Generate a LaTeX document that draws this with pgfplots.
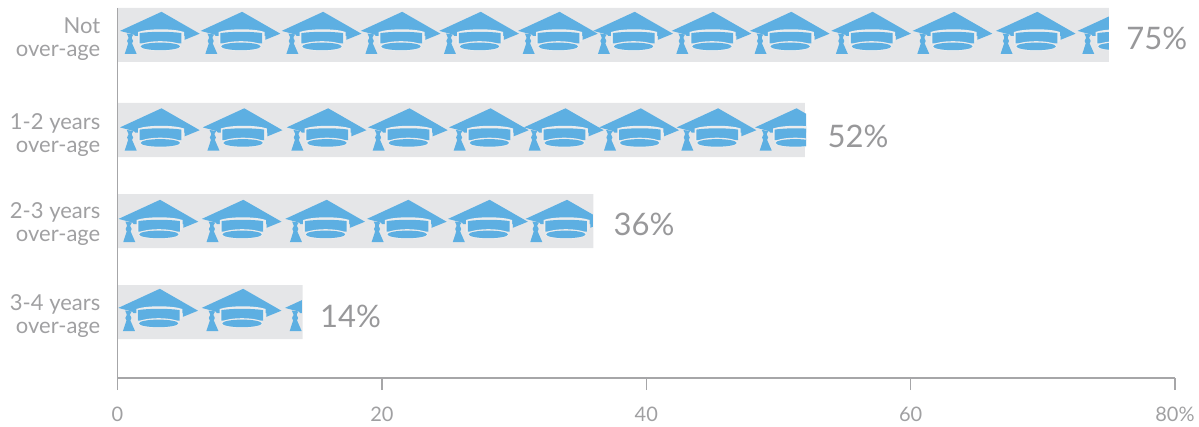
\documentclass[border=0pt]{standalone}
\usepackage{fontspec}
\setmainfont{Lato}
\usepackage{pgfplots}
\pgfplotsset{compat=1.18}

\definecolor{capblue}{HTML}{5DAFE2}
\definecolor{bargrey}{HTML}{E5E6E8}
\definecolor{bandgrey}{HTML}{EBECED}
\definecolor{textgrey}{HTML}{A0A0A2}
\definecolor{valuegrey}{HTML}{98989A}
\definecolor{axisgrey}{HTML}{A6A6A8}

% shorthands for the cap outline, all lengths in pt
\newcommand\mv[2]{\pgfpathmoveto{\pgfqpoint{#1pt}{#2pt}}}
\newcommand\li[2]{\pgfpathlineto{\pgfqpoint{#1pt}{#2pt}}}
\newcommand\cu[6]{\pgfpathcurveto{\pgfqpoint{#1pt}{#2pt}}{\pgfqpoint{#3pt}{#4pt}}{\pgfqpoint{#5pt}{#6pt}}}

% origin: left corner of the board in x, middle of the cap in y
\newcommand\capshape{%
  \pgfsetfillcolor{capblue}%
  % board
  \mv{0}{2.1}\li{41.5}{21.2}\li{79.7}{-0.7}\li{64.7}{-6.8}\li{64.7}{-3}\li{15}{-3}\li{14}{-1.6}\pgfpathclose
  \pgfusepathqfill
  % band around the crown
  \pgfsetfillcolor{bandgrey}%
  \mv{18}{-11}\li{18}{1}\cu{28}{4.6}{54}{4.6}{64}{1}\li{64}{-8}\li{60}{-11}\pgfpathclose
  \pgfusepathqfill
  % crown
  \pgfsetfillcolor{capblue}%
  \mv{19.7}{-0.1}\cu{30}{1.6}{51}{1.6}{61.4}{-0.1}\li{61.4}{-10.5}\li{19.7}{-10.5}\pgfpathclose
  \pgfusepathqfill
  % brim
  \pgfsetfillcolor{bandgrey}%
  \pgfpathellipse{\pgfqpoint{40.3pt}{-13.2pt}}{\pgfqpoint{21pt}{0pt}}{\pgfqpoint{0pt}{5pt}}
  \pgfusepathqfill
  \pgfsetfillcolor{capblue}%
  \pgfpathellipse{\pgfqpoint{40.3pt}{-13.4pt}}{\pgfqpoint{19.7pt}{0pt}}{\pgfqpoint{0pt}{3.8pt}}
  \pgfusepathqfill
  % tassel
  \mv{6.8}{-0.5}\li{13.5}{-1.5}\li{11.9}{-4}\li{11.9}{-10}\li{16.7}{-21}\li{4.7}{-21}\li{8.3}{-10}\li{8.3}{-4}\pgfpathclose
  \pgfusepathqfill
  \pgfpathcircle{\pgfqpoint{10.1pt}{-8pt}}{3pt}
  \pgfusepathqfill
}
\pgfdeclareplotmark{cap}{\capshape}
% caps cut off at the end of their bar, by how much of them is left
\newcommand\declarecut[2]{%
  \pgfdeclareplotmark{#1}{%
    \pgfpathrectangle{\pgfqpoint{-1pt}{-30pt}}{\pgfqpoint{#2pt}{60pt}}%
    \pgfusepath{clip}%
    \capshape}}
\declarecut{cutA}{32.3}
\declarecut{cutB}{52}
\declarecut{cutC}{68.4}
\declarecut{cutD}{18}

\begin{document}
\begin{tikzpicture}
\useasboundingbox (-117.5pt,-48pt) rectangle (1081.5pt,378pt);
\begin{axis}[
  scale only axis, width=1057.5pt, height=370pt,
  xmin=0, xmax=80, ymin=0, ymax=370,
  clip=false, axis on top,
  axis x line*=bottom, axis y line*=left,
  axis line style={-, color=axisgrey, line width=1.5pt},
  xtick={0,20,40,60,80},
  xticklabels={0,20,40,60,80\%},
  xtick align=outside, major tick length=12pt,
  xtick style={color=axisgrey, line width=1.5pt},
  xticklabel style={font=\fontsize{20}{24}\selectfont, text=textgrey, inner sep=0pt, yshift=-17pt},
  ytick={339,243,154,62},
  yticklabels={{Not\\over-age},{1-2 years\\over-age},{2-3 years\\over-age},{3-4 years\\over-age}},
  ytick style={draw=none},
  yticklabel style={font=\fontsize{22}{23.5}\selectfont, text=textgrey, align=right, inner sep=0pt, xshift=-17pt},
  /pgf/number format/assume math mode=true,
]
\addplot[xbar, bar width=54pt, bar shift=0pt, draw=none, fill=bargrey] coordinates {
(75,343)
(52,248)
(36,157)
(14,66)
};
% not over-age
\addplot[only marks, mark=cap] coordinates {
(0.19,345) (6.29,345) (12.42,345) (18.40,345) (24.34,345) (30.30,345)
(35.99,345) (41.92,345) (47.84,345) (53.99,345) (60.15,345) (66.45,345)
};
\addplot[only marks, mark=cutA] coordinates {(72.63,345)};
% 1-2 years
\addplot[only marks, mark=cap] coordinates {
(0.19,248.5) (6.45,248.5) (12.80,248.5) (18.95,248.5) (25.08,248.5) (30.75,248.5) (36.45,248.5) (42.30,248.5)
};
\addplot[only marks, mark=cutB] coordinates {(48.23,248.5)};
% 2-3 years
\addplot[only marks, mark=cap] coordinates {
(0.08,157) (6.38,157) (12.69,157) (18.87,157) (25.01,157)
};
\addplot[only marks, mark=cutC] coordinates {(30.87,157)};
% 3-4 years
\addplot[only marks, mark=cap] coordinates {(0.06,68) (6.37,68)};
\addplot[only marks, mark=cutD] coordinates {(12.67,68)};
% value labels, meta is the printed number
\addplot[only marks, mark=none, point meta=explicit,
  nodes near coords={\pgfmathprintnumber{\pgfplotspointmeta}\%},
  nodes near coords style={anchor=west, inner sep=0pt, xshift=18pt, text=valuegrey, font=\fontsize{31}{36}\selectfont}]
coordinates {
(74.95,339.5) [75]
(52.35,242) [52]
(36.15,154) [36]
(13.95,61.5) [14]
};
\end{axis}
\end{tikzpicture}
\end{document}
